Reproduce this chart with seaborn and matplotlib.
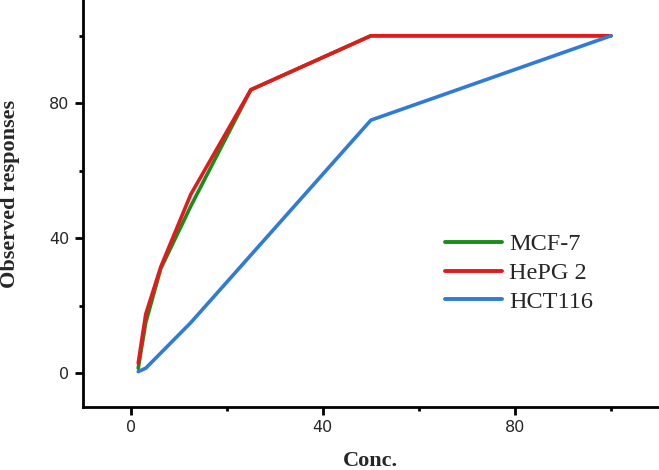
import pandas as pd
import seaborn as sns
import matplotlib.pyplot as plt
from matplotlib.ticker import MultipleLocator

# Data
conc = [1.56, 3.125, 6.25, 12.5, 25, 50, 100]
mcf7 = [1.5, 15, 31, 49.5, 84, 100, 100]
hepg2 = [3, 17.5, 31.5, 53, 84, 100, 100]
hct116 = [0.5, 1.5, 6, 15, 35, 75, 100]

series_names = ["MCF-7", "HePG 2", "HCT116"]
colors = ["#1a8c1a", "#e31a1c", "#2f7bd6"]

df = pd.concat([
    pd.DataFrame({"Conc.": conc, "resp": vals, "cell": name})
    for name, vals in zip(series_names, [mcf7, hepg2, hct116])
])

sns.set_style("ticks")
plt.rcParams["font.family"] = ["DejaVu Sans"]

fig = plt.figure(figsize=(6.59, 4.70), dpi=100)
ax = fig.add_axes([82.7 / 659, 1 - 406.7 / 470, 1 - 82.7 / 659, 406.7 / 470])

sns.lineplot(data=df, x="Conc.", y="resp", hue="cell", hue_order=series_names,
             palette=colors, linewidth=2.6, ax=ax, legend=True)

ax.set_xlim(-10, 110)
ax.set_ylim(-9.9, 110.6)
ax.xaxis.set_major_locator(MultipleLocator(40))
ax.xaxis.set_minor_locator(MultipleLocator(20))
ax.yaxis.set_major_locator(MultipleLocator(40))
ax.yaxis.set_minor_locator(MultipleLocator(20))

for side in ["top", "right"]:
    ax.spines[side].set_visible(False)
for side in ["left", "bottom"]:
    ax.spines[side].set_linewidth(2.0)
    ax.spines[side].set_color("black")

ax.tick_params(which="major", length=5.5, width=2.0, pad=4, labelsize=11.5, color="black")
ax.tick_params(which="minor", length=3, width=2.0, color="black")

ax.set_xlabel("Conc.", fontfamily="Liberation Serif", fontweight="bold", fontsize=16)
ax.set_ylabel("Observed responses", fontfamily="Liberation Serif", fontweight="bold", fontsize=16)
ax.xaxis.set_label_coords(0.5, -(451 - 406.7) / 406.7)
ax.yaxis.set_label_coords((20 - 82.7) / (659 - 82.7), 0.523)

handles, labels = ax.get_legend_handles_labels()
leg = ax.legend(handles, labels, loc="center left",
                bbox_to_anchor=(440 / 659, 1 - 273 / 470), bbox_transform=fig.transFigure,
                frameon=False, borderaxespad=0, borderpad=0.2, handlelength=2.35,
                handletextpad=0.3, labelspacing=0.28,
                prop={"family": "Liberation Serif", "size": 17.5})
for line in leg.get_lines():
    line.set_linewidth(2.8)

fig.savefig("out.png", dpi=100)
